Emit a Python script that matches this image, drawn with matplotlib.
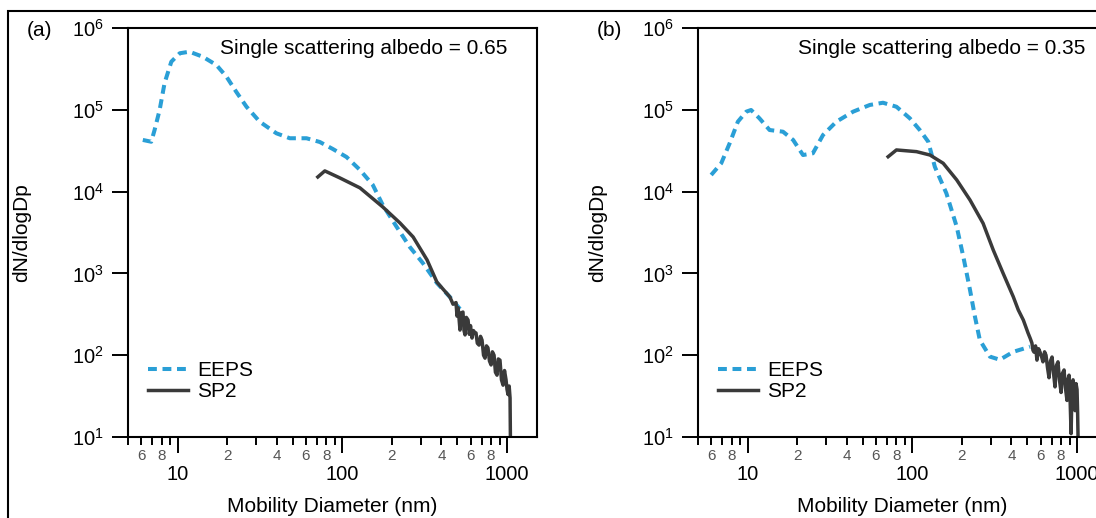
import matplotlib
matplotlib.use('Agg')
import matplotlib.pyplot as plt
from matplotlib.patches import Rectangle
from matplotlib.ticker import FixedLocator, FuncFormatter, LogLocator, NullLocator, LogFormatterMathtext

plt.rcParams['font.family'] = ['Liberation Sans', 'DejaVu Sans']
plt.rcParams['mathtext.fontset'] = 'custom'
plt.rcParams['mathtext.rm'] = 'Liberation Sans'
plt.rcParams['mathtext.it'] = 'Liberation Sans:italic'
plt.rcParams['mathtext.bf'] = 'Liberation Sans:bold'

# panel (a) - albedo 0.65
eeps_a_d = [6.15, 6.92, 7.25, 7.78, 8.34, 9.16, 10.3, 11.8, 14.2, 17.2, 19.8, 22.7, 26.2,
            31.5, 39.8, 48.0, 60.6, 73.0, 87.5, 106, 128, 153, 176, 214, 257, 308, 375, 450, 518]
eeps_a_n = [42800, 40700, 56600, 99500, 213000, 387000, 491000, 513000, 446000, 353000,
            254000, 166000, 109000, 71600, 51600, 44900, 44900, 40400, 33200, 26500, 18400,
            12100, 6860, 3690, 2100, 1340, 764, 514, 367]
sp2_a_d = [71.0, 78.3, 96.6, 128, 176, 224, 269, 327, 375, 450, 470, 490, 497, 505, 518, 528,
           540, 548, 556, 566, 580, 590, 600, 613, 625, 636, 648, 660, 676, 690, 705, 720, 735,
           750, 766, 782, 800, 815, 834, 850, 869, 885, 906, 925, 946, 965, 986, 1000, 1014,
           1030, 1043, 1048]
sp2_a_n = [15100, 17900, 14700, 11100, 6490, 4130, 2790, 1460, 785, 514, 420, 440, 300, 380,
           203, 330, 337, 200, 177, 290, 269, 180, 230, 162, 200, 190, 187, 140, 133, 170, 153,
           100, 92, 130, 123, 85, 76, 110, 100, 62, 57, 90, 87, 50, 43, 65, 50, 38, 33, 42,
           30, 10]

# panel (b) - albedo 0.35
eeps_b_d = [6.01, 6.92, 7.78, 8.73, 9.82, 10.5, 11.8, 13.6, 16.4, 18.9, 21.7, 24.9, 28.7,
            34.6, 43.7, 55.2, 66.4, 80.1, 96.6, 111, 125, 137, 161, 186, 204, 224, 240, 257,
            296, 340, 410, 518]
eeps_b_n = [15960, 22200, 38900, 71600, 94900, 99500, 78700, 56600, 54000, 42800, 28000,
            29400, 49200, 71600, 94900, 114600, 122000, 109000, 78700, 56600, 40700, 20100,
            9530, 3720, 1600, 627, 296, 153, 96, 88, 110, 127]
sp2_b_d = [71.3, 80.1, 106, 128, 154, 186, 224, 269, 310, 356, 410, 440, 472, 504, 520, 532,
           540, 548, 560, 571, 584, 596, 610, 621, 635, 648, 662, 676, 690, 705, 720, 735, 750,
           766, 782, 800, 815, 834, 850, 869, 880, 894, 907, 920, 933, 946, 960, 973, 986,
           1000, 1008, 1014]
sp2_b_n = [26700, 32300, 30800, 28000, 22200, 13900, 7890, 4090, 1930, 1000, 519, 357, 269,
           187, 160, 141, 115, 109, 130, 87, 120, 109, 95, 83, 110, 100, 70, 53, 85, 95, 60,
           41, 75, 83, 50, 35, 60, 66, 40, 28, 50, 57, 30, 11, 40, 50, 30, 21, 45, 38, 20, 10]

panels = [
    ('(a)', 'Single scattering albedo = 0.65', eeps_a_d, eeps_a_n, sp2_a_d, sp2_a_n),
    ('(b)', 'Single scattering albedo = 0.35', eeps_b_d, eeps_b_n, sp2_b_d, sp2_b_n),
]

W, H = 1096, 518
fig = plt.figure(figsize=(W / 100, H / 100), dpi=100)

# outer frame (cropped on right/bottom like the original)
fig.add_artist(Rectangle((8 / W, -0.1), 1.2, 1 - 11 / H + 0.1, transform=fig.transFigure,
                         fill=False, lw=1.5, ec='black'))

blue = '#2a9fd6'
dark = '#3a3a3a'
lefts = [128, 698]
tag_x = [39, 609]
note_x = [220, 798]

def minor_fmt(v, pos):
    m = int(round(v / 10 ** int(f'{v:e}'.split('e')[1])))
    return str(m) if m in (2, 4, 6, 8) else ''

for i, (tag, note, ed, en, sd, sn) in enumerate(panels):
    ax = fig.add_axes([lefts[i] / W, 81 / H, 409 / W, 409 / H])
    ax.plot(ed, en, color=blue, lw=2.9, dashes=(2.2, 1.4), label='EEPS')
    ax.plot(sd, sn, color=dark, lw=2.5, label='SP2')
    ax.set_xscale('log')
    ax.set_yscale('log')
    ax.set_xlim(5, 1520)
    ax.set_ylim(10, 1e6)

    ax.yaxis.set_major_locator(LogLocator(base=10, numticks=10))
    ax.yaxis.set_major_formatter(LogFormatterMathtext())
    ax.yaxis.set_minor_locator(NullLocator())
    ax.xaxis.set_major_locator(FixedLocator([10, 100, 1000]))
    ax.xaxis.set_major_formatter(FuncFormatter(lambda v, p: f'{int(v)}'))
    minors = [m * 10 ** e for e in range(0, 4) for m in range(2, 10)]
    ax.xaxis.set_minor_locator(FixedLocator(minors))
    ax.xaxis.set_minor_formatter(FuncFormatter(minor_fmt))

    for s in ax.spines.values():
        s.set_linewidth(1.5)
    ax.tick_params(axis='both', which='major', direction='out', length=11.5, width=1.4,
                   labelsize=14.5, top=False, right=False)
    ax.tick_params(axis='y', which='major', pad=6)
    ax.tick_params(axis='x', which='major', pad=9)
    ax.tick_params(axis='x', which='minor', direction='out', length=5.8, width=1.4,
                   labelsize=11, labelcolor='#555555', pad=3)

    ax.set_xlabel('Mobility Diameter (nm)', fontsize=15)
    ax.xaxis.set_label_coords(0.5, -0.171)
    ax.xaxis.label.set_va('center')
    ax.set_ylabel('dN/dlogDp', fontsize=15)
    ax.yaxis.set_label_coords((22 + 576 * i - lefts[i]) / 409, 0.5)
    ax.yaxis.label.set_va('center')

    ax.legend(loc='center left', bbox_to_anchor=(0.05, 0.137), frameon=False, fontsize=15,
              handlelength=1.9, handletextpad=0.45, labelspacing=0.1, borderpad=0,
              borderaxespad=0)

    fig.text(tag_x[i] / W, 1 - 30 / H, tag, fontsize=15, ha='center', va='center')
    fig.text(note_x[i] / W, 1 - 48 / H, note, fontsize=15, ha='left', va='center')

fig.savefig('out.png', dpi=100)
